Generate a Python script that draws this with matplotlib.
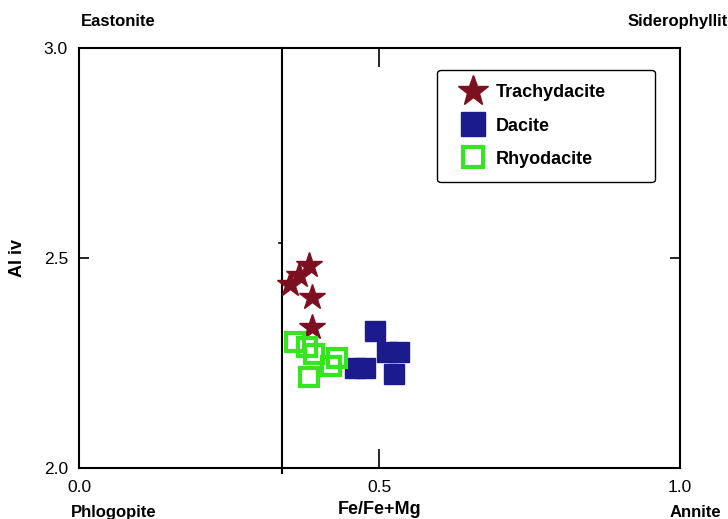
import matplotlib
matplotlib.use("Agg")
import matplotlib.pyplot as plt

# dane (Fe/Fe+Mg, Al iv)
trachy_x = [0.383, 0.366, 0.351, 0.388, 0.388]
trachy_y = [2.483, 2.460, 2.438, 2.407, 2.336]

dacite_x = [0.492, 0.512, 0.533, 0.524, 0.459, 0.476]
dacite_y = [2.327, 2.277, 2.277, 2.224, 2.237, 2.237]

rhyo_x = [0.359, 0.379, 0.391, 0.383, 0.420, 0.430]
rhyo_y = [2.299, 2.289, 2.271, 2.217, 2.243, 2.263]

x_ticks = [0.0, 0.5, 1.0]
y_ticks = [2.0, 2.5, 3.0]
divider_x = 0.338

plt.rcParams["font.family"] = ["Liberation Sans", "DejaVu Sans"]

fig = plt.figure(figsize=(7.28, 5.19), dpi=100)
ax = fig.add_axes([0.1085, 0.0983, 0.8255, 0.8092])

ax.plot(trachy_x, trachy_y, linestyle="none", marker="*", markersize=19,
        color="#7d1020", markeredgecolor="#7d1020", label="Trachydacite", zorder=3)
ax.plot(dacite_x, dacite_y, linestyle="none", marker="s", markersize=14.5,
        color="#1b1b8e", markeredgecolor="#1b1b8e", label="Dacite", zorder=3)
ax.plot(rhyo_x, rhyo_y, linestyle="none", marker="s", markersize=12.5,
        markerfacecolor="none", markeredgecolor="#33e61f", markeredgewidth=3.0,
        label="Rhyodacite", zorder=4)

# linia podzialu
ax.plot([divider_x, divider_x], [3.0, 1.988], color="black", lw=1.5, clip_on=False, zorder=2)
# maly znacznik na linii
ax.plot([divider_x - 0.006, divider_x], [2.535, 2.535], color="black", lw=1.2, zorder=2)

ax.set_xlim(0, 1)
ax.set_ylim(2.0, 3.0)
ax.set_xticks(x_ticks)
ax.set_xticklabels([f"{v:.1f}" for v in x_ticks])
ax.set_yticks(y_ticks)
ax.set_yticklabels([f"{v:.1f}" for v in y_ticks])
ax.tick_params(axis="x", direction="in", length=14, width=1.2, top=True, pad=9, labelsize=12.5)
ax.tick_params(axis="y", direction="in", length=7, width=1.2, right=True, pad=8, labelsize=12.5)
for s in ax.spines.values():
    s.set_linewidth(1.5)

bold = dict(fontweight="bold", fontsize=12, transform=ax.transAxes)
ax.text(0.065, 1.062, "Eastonite", ha="center", va="center", **bold)
ax.text(0.912, 1.062, "Siderophyllite", ha="left", va="center", clip_on=False, **bold)
ax.text(0.057, -0.107, "Phlogopite", ha="center", va="center", **bold)
ax.text(0.5, -0.10, "Fe/Fe+Mg", ha="center", va="center",
        fontweight="bold", fontsize=13, transform=ax.transAxes)
ax.text(1.025, -0.107, "Annite", ha="center", va="center", **bold)
ax.text(-0.1015, 0.5, "Al iv", ha="center", va="center", rotation=90,
        fontweight="bold", fontsize=13, transform=ax.transAxes)

leg = ax.legend(loc="upper left", bbox_to_anchor=(0.596, 0.948, 0.362, 0.0),
                mode="expand", borderaxespad=0,
                prop={"weight": "bold", "size": 13}, frameon=True, fancybox=True,
                labelspacing=0.9, handletextpad=0.05, borderpad=0.8, handlelength=2.4,
                markerscale=1.2)
leg.get_frame().set_edgecolor("black")
leg.get_frame().set_linewidth(1.0)
leg.get_frame().set_alpha(1)

fig.savefig("out.png", dpi=100)
